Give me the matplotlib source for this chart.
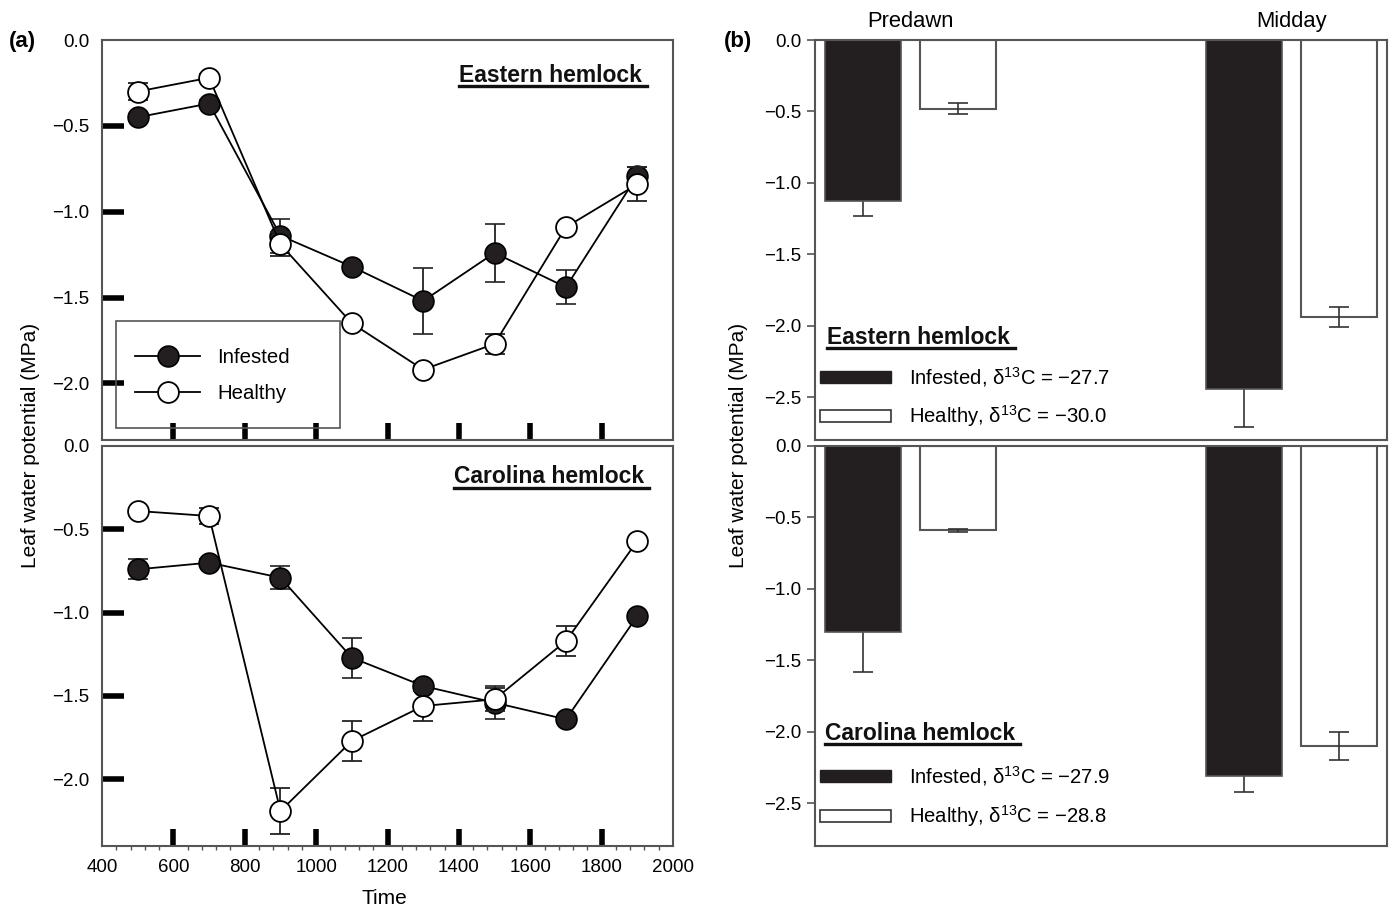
import matplotlib
matplotlib.use("Agg")
import matplotlib.pyplot as plt
import numpy as np
from matplotlib.lines import Line2D
from matplotlib.patches import Rectangle
from matplotlib.ticker import MultipleLocator

plt.rcParams['font.family'] = ['Liberation Sans', 'DejaVu Sans']
plt.rcParams['mathtext.fontset'] = 'custom'
plt.rcParams['mathtext.rm'] = 'Liberation Sans'
plt.rcParams['mathtext.it'] = 'Liberation Sans:italic'

# ---- data: panel (a), diurnal leaf water potential ----
time = [500, 700, 900, 1100, 1300, 1500, 1700, 1900]

eastern_inf = [-0.45, -0.37, -1.14, -1.32, -1.52, -1.24, -1.44, -0.79]
eastern_inf_se = [0.02, 0.02, 0.10, 0.02, 0.19, 0.17, 0.10, 0.05]
eastern_hea = [-0.30, -0.22, -1.19, -1.65, -1.92, -1.77, -1.09, -0.84]
eastern_hea_se = [0.05, 0.02, 0.07, 0.02, 0.02, 0.06, 0.02, 0.10]

carolina_inf = [-0.74, -0.70, -0.79, -1.27, -1.44, -1.54, -1.64, -1.02]
carolina_inf_se = [0.06, 0.02, 0.07, 0.12, 0.03, 0.10, 0.02, 0.02]
carolina_hea = [-0.39, -0.42, -2.19, -1.77, -1.56, -1.52, -1.17, -0.57]
carolina_hea_se = [0.01, 0.05, 0.14, 0.12, 0.09, 0.07, 0.09, 0.01]

# ---- data: panel (b), predawn / midday ----
periods = ['Predawn', 'Midday']
eastern_bar_inf = [-1.13, -2.44]
eastern_bar_inf_se = [0.10, 0.27]
eastern_bar_hea = [-0.48, -1.94]
eastern_bar_hea_se = [0.04, 0.07]
carolina_bar_inf = [-1.30, -2.31]
carolina_bar_inf_se = [0.28, 0.11]
carolina_bar_hea = [-0.59, -2.10]
carolina_bar_hea_se = [0.01, 0.10]
d13c_eastern = ['\u221227.7', '\u221230.0']
d13c_carolina = ['\u221227.9', '\u221228.8']

W, H = 1392, 911
fig = plt.figure(figsize=(W / 100, H / 100), dpi=100)

def px_axes(x0, y0, x1, y1):
    return fig.add_axes([x0 / W, 1 - y1 / H, (x1 - x0) / W, (y1 - y0) / H])

spine_col = '#555555'
dark = '#231f20'
TICK_FS = 13.5
LAB_FS = 15

ax_a1 = px_axes(102, 40, 673, 440)
ax_a2 = px_axes(102, 446, 673, 846)
ax_b1 = px_axes(815, 40, 1387, 440)
ax_b2 = px_axes(815, 446, 1387, 846)

for ax in (ax_a1, ax_a2, ax_b1, ax_b2):
    for s in ax.spines.values():
        s.set_color(spine_col)
        s.set_linewidth(1.5)

# ---- panel (a) ----
def line_panel(ax, inf, inf_se, hea, hea_se, ylo):
    ax.errorbar(time, inf, yerr=inf_se, color='black', lw=1.3, ecolor='#222222',
                elinewidth=1.3, capsize=7, capthick=1.3, marker='o', ms=15,
                mfc=dark, mec='black', mew=1.2, zorder=3)
    ax.errorbar(time, hea, yerr=hea_se, color='black', lw=1.3, ecolor='#222222',
                elinewidth=1.3, capsize=7, capthick=1.3, marker='o', ms=15,
                mfc='white', mec='black', mew=1.3, zorder=4)
    ax.set_xlim(400, 2000)
    ax.set_ylim(ylo, 0)
    ax.set_yticks([0.0, -0.5, -1.0, -1.5, -2.0])
    ax.set_yticklabels(['0.0', '\u22120.5', '\u22121.0', '\u22121.5', '\u22122.0'])
    ax.tick_params(axis='y', direction='in', length=16, width=4, color='black',
                   labelsize=TICK_FS, pad=9)
    ax.tick_params(axis='x', direction='in', length=12, width=4, color='black',
                   labelsize=TICK_FS, pad=9)
    # no thick mark at 0.0 (hidden under the top spine in the original)
    ax.yaxis.get_major_ticks()[0].tick1line.set_visible(False)

line_panel(ax_a1, eastern_inf, eastern_inf_se, eastern_hea, eastern_hea_se, -2.33)
line_panel(ax_a2, carolina_inf, carolina_inf_se, carolina_hea, carolina_hea_se, -2.4)
ax_a1.set_xticks([600, 800, 1000, 1200, 1400, 1600, 1800])
ax_a1.tick_params(axis='x', labelbottom=False)
ax_a2.set_xticks([400, 600, 800, 1000, 1200, 1400, 1600, 1800, 2000])
for i in (0, -1):
    ax_a2.xaxis.get_major_ticks()[i].tick1line.set_visible(False)
ax_a2.xaxis.set_minor_locator(MultipleLocator(40))
ax_a2.tick_params(axis='x', which='minor', direction='out', length=3, width=1, color=spine_col)

# legend of panel (a)
ax_a1.add_patch(Rectangle((0.0245, 0.03), 0.3925, 0.2675, transform=ax_a1.transAxes,
                          fill=False, edgecolor=spine_col, lw=1.2, zorder=5))
handles = [
    Line2D([], [], color='black', lw=1.3, marker='o', ms=15, mfc=dark, mec='black', mew=1.2),
    Line2D([], [], color='black', lw=1.3, marker='o', ms=15, mfc='white', mec='black', mew=1.3),
]
ax_a1.legend(handles, ['Infested', 'Healthy'], loc='center left',
             bbox_to_anchor=(0.058, 0.161), frameon=False,
             fontsize=14.7, handlelength=3.2, handletextpad=0.83, labelspacing=0.8,
             borderpad=0, borderaxespad=0)

# ---- panel (b) ----
xpos = np.arange(len(periods))
bw, off = 0.2, 0.125

def bar_panel(ax, inf, inf_se, hea, hea_se):
    ax.bar(xpos - off, inf, bw, color=dark, edgecolor=spine_col, lw=1.2, zorder=2)
    ax.bar(xpos + off, hea, bw, color='white', edgecolor=spine_col, lw=1.5, zorder=2)
    ax.errorbar(xpos - off, inf, yerr=inf_se, fmt='none', ecolor='#333333',
                elinewidth=1.2, capsize=7, capthick=1.2, zorder=1)
    ax.errorbar(xpos + off, hea, yerr=hea_se, fmt='none', ecolor='#333333',
                elinewidth=1.2, capsize=7, capthick=1.2, zorder=3)
    ax.set_xlim(-0.25, 1.25)
    ax.set_ylim(-2.8, 0)
    ax.set_yticks([0.0, -0.5, -1.0, -1.5, -2.0, -2.5])
    ax.set_yticklabels(['0.0', '\u22120.5', '\u22121.0', '\u22121.5', '\u22122.0', '\u22122.5'])
    ax.tick_params(axis='y', direction='out', length=6, width=1.2, color=spine_col,
                   labelsize=TICK_FS, pad=4)

bar_panel(ax_b1, eastern_bar_inf, eastern_bar_inf_se, eastern_bar_hea, eastern_bar_hea_se)
bar_panel(ax_b2, carolina_bar_inf, carolina_bar_inf_se, carolina_bar_hea, carolina_bar_hea_se)
ax_b1.set_xticks(xpos)
ax_b1.set_xticklabels(periods)
ax_b1.tick_params(axis='x', top=True, labeltop=True, bottom=False, labelbottom=False,
                  length=0, labelsize=15.8, pad=6)
ax_b2.set_xticks([])

def bar_legend(ax, d13c, y_inf, y_hea):
    ax.add_patch(Rectangle((0.0087, y_inf - 0.014), 0.1245, 0.028, transform=ax.transAxes,
                           facecolor=dark, edgecolor=dark, lw=1, zorder=5))
    ax.add_patch(Rectangle((0.0087, y_hea - 0.014), 0.1245, 0.028, transform=ax.transAxes,
                           facecolor='white', edgecolor='#333333', lw=1.2, zorder=5))
    ax.text(0.164, y_inf, 'Infested, \u03b4$^{13}$C = ' + d13c[0], transform=ax.transAxes,
            fontsize=14.6, va='center', ha='left')
    ax.text(0.164, y_hea, 'Healthy, \u03b4$^{13}$C = ' + d13c[1], transform=ax.transAxes,
            fontsize=14.6, va='center', ha='left')

bar_legend(ax_b1, d13c_eastern, 0.1575, 0.06)
bar_legend(ax_b2, d13c_carolina, 0.175, 0.075)

# ---- underlined species titles ----
titles = [
    (ax_a1, 0.945, 0.9125, 'right', 'Eastern hemlock'),
    (ax_a2, 0.950, 0.9225, 'right', 'Carolina hemlock'),
    (ax_b1, 0.021, 0.2575, 'left', 'Eastern hemlock'),
    (ax_b2, 0.017, 0.2825, 'left', 'Carolina hemlock'),
]
title_texts = []
for ax, x, y, ha, s in titles:
    t = ax.text(x, y, s, transform=ax.transAxes, fontsize=16.5, fontweight='bold',
                ha=ha, va='center', color='#111111')
    title_texts.append(t)

fig.canvas.draw()
inv = fig.transFigure.inverted()
for t in title_texts:
    bb = t.get_window_extent().transformed(inv)
    yl = bb.y0 + 0.5 / H
    fig.add_artist(Line2D([bb.x0, bb.x1 + 5 / W], [yl, yl], color='#111111', lw=2.4))

# ---- figure-level labels ----
fig.text(22 / W, 1 - 42 / H, '(a)', fontsize=16, fontweight='bold', ha='center', va='center')
fig.text(738 / W, 1 - 42 / H, '(b)', fontsize=16, fontweight='bold', ha='center', va='center')
fig.text(30 / W, 1 - 445 / H, 'Leaf water potential (MPa)', rotation=90, fontsize=LAB_FS,
         ha='center', va='center')
fig.text(738 / W, 1 - 445 / H, 'Leaf water potential (MPa)', rotation=90, fontsize=LAB_FS,
         ha='center', va='center')
fig.text(384 / W, 1 - 898 / H, 'Time', fontsize=LAB_FS, ha='center', va='center')

fig.savefig('out.png', dpi=100)
